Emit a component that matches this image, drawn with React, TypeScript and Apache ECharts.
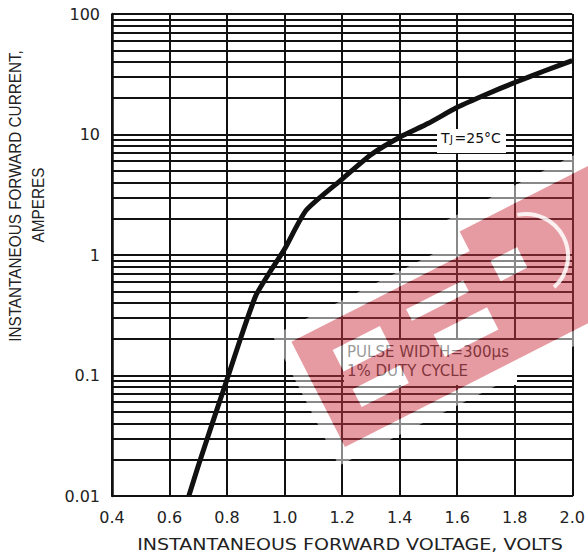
import React, { useEffect, useRef } from "react";
import * as echarts from "echarts";

// ---- data ----
const voltage = [0.667, 0.7, 0.75, 0.8, 0.85, 0.9, 0.95, 1.0, 1.075, 1.2, 1.3, 1.4, 1.5, 1.6, 1.7, 1.8, 1.9, 2.0];
const current = [0.01, 0.0178, 0.041, 0.093, 0.214, 0.46, 0.73, 1.12, 2.35, 4.27, 6.8, 9.5, 12.4, 16.8, 21.5, 27, 33.5, 41];

const xTickLabels = ["0.4", "0.6", "0.8", "1.0", "1.2", "1.4", "1.6", "1.8", "2.0"];
const yTickLabels = ["0.01", "0.1", "1", "10", "100"];
const decades = [0.01, 0.1, 1, 10];
const minorMultipliers = [2, 3, 4, 5, 6, 7, 8, 9];

const xTitle = "INSTANTANEOUS FORWARD VOLTAGE, VOLTS";
const yTitle1 = "INSTANTANEOUS FORWARD CURRENT,";
const yTitle2 = "AMPERES";
const noteLine1 = "PULSE WIDTH=300\u00b5s";
const noteLine2 = "1% DUTY CYCLE";

// ---- watermark shape (local coordinates) ----
const wmHoles = [
  [33, 86, 28, 48],
  [33, 86, 68, 92],
  [117, 181, 82, 95],
  [130, 190, 35, 60],
  [214, 244, 77, 100],
];
const wmOuter = "M0 0 L420 0 L420 -140 L200 -140 L200 -118 L0 -118 Z";
const wmPath =
  wmOuter +
  " " +
  wmHoles
    .map(([s1, s2, t1, t2]) => `M${s1} ${-t1} L${s1} ${-t2} L${s2} ${-t2} L${s2} ${-t1} Z`)
    .join(" ");
const haloPath =
  "M-14 14 L440 14 L440 -156 L186 -156 L186 -132 L-14 -132 Z " +
  "M0 0 L0 -118 L200 -118 L200 -140 L420 -140 L420 0 Z " +
  wmHoles
    .map(([s1, s2, t1, t2]) => `M${s1} ${-t1} L${s2} ${-t1} L${s2} ${-t2} L${s1} ${-t2} Z`)
    .join(" ");
echarts.graphic.registerShape("wmLogo", echarts.graphic.extendPath(wmPath, {}));
echarts.graphic.registerShape("wmHalo", echarts.graphic.extendPath(haloPath, {}));

const FONT = "DejaVu Sans";

export default function App() {
  const ref = useRef<HTMLDivElement>(null);
  useEffect(() => {
    document.body.style.margin = "0";
    const chart = echarts.init(ref.current!, null, { renderer: "svg" });
    const minorLines: number[] = [];
    decades.forEach((d) => minorMultipliers.forEach((m) => minorLines.push(+(d * m).toPrecision(3))));
    const grid = { color: "#111", width: 2 };
    const option: any = {
      animation: false,
      grid: { left: 112, right: 13, top: 14, bottom: 61 },
      xAxis: {
        type: "value",
        min: 0.4,
        max: 2.0,
        interval: 0.2,
        axisLine: { show: true, lineStyle: grid },
        axisTick: { show: false },
        splitLine: { show: true, lineStyle: grid },
        axisLabel: {
          margin: 13,
          fontFamily: FONT,
          fontSize: 16,
          color: "#222",
          formatter: (v: number) => xTickLabels[Math.round((v - 0.4) / 0.2)] ?? "",
        },
      },
      yAxis: {
        type: "log",
        logBase: 10,
        min: 0.01,
        max: 100,
        axisLine: { show: true, onZero: false, lineStyle: { color: "#111", width: 2.5 } },
        axisTick: { show: false },
        splitLine: { show: true, lineStyle: grid },
        axisLabel: {
          margin: 12,
          fontFamily: FONT,
          fontSize: 16,
          color: "#222",
          formatter: (v: number) => yTickLabels[Math.round(Math.log10(v)) + 2] ?? "",
        },
      },
      series: [
        {
          type: "line",
          data: voltage.map((v, i) => [v, current[i]]),
          symbol: "none",
          smooth: 0.2,
          lineStyle: { color: "#111", width: 5, join: "round" },
          z: 5,
          markLine: {
            silent: true,
            symbol: ["none", "none"],
            label: { show: false },
            lineStyle: { color: "#111", width: 2, type: "solid" },
            data: minorLines.map((v) => ({ yAxis: v })),
          },
        },
      ],
      graphic: [
        { type: "rect", z: 10, shape: { x: 344, y: 340, width: 173, height: 45 }, style: { fill: "#fff" } },
        {
          type: "text", z: 11, x: 347, y: 352,
          style: { text: noteLine1, font: `15px "${FONT}"`, fill: "#333", align: "left", verticalAlign: "middle" },
        },
        {
          type: "text", z: 11, x: 347, y: 371,
          style: { text: noteLine2, font: `15px "${FONT}"`, fill: "#333", align: "left", verticalAlign: "middle" },
        },
        { type: "rect", z: 10, shape: { x: 437, y: 129, width: 69, height: 24 }, style: { fill: "#fff" } },
        {
          type: "text", z: 11, x: 441, y: 145,
          style: { text: "T", font: `14px "${FONT}"`, fill: "#111", align: "left", verticalAlign: "bottom" },
        },
        {
          type: "text", z: 11, x: 450, y: 144.5,
          style: { text: "J", font: `10px "${FONT}"`, fill: "#111", align: "left", verticalAlign: "bottom" },
        },
        {
          type: "text", z: 11, x: 454.5, y: 145,
          style: { text: "=25\u00b0C", font: `14px "${FONT}"`, fill: "#111", align: "left", verticalAlign: "bottom" },
        },
        {
          type: "text", z: 11, x: 350, y: 545, scaleX: 1.19,
          style: { text: xTitle, font: `16px "${FONT}"`, fill: "#222", align: "center", verticalAlign: "middle" },
        },
        {
          type: "text", z: 11, x: 15, y: 196, rotation: Math.PI / 2, scaleX: 1.02, scaleY: 1.15,
          style: { text: yTitle1, font: `15px "Liberation Sans"`, fill: "#222", align: "center", verticalAlign: "middle" },
        },
        {
          type: "text", z: 11, x: 38, y: 205, rotation: Math.PI / 2, scaleX: 1.02, scaleY: 1.15,
          style: { text: yTitle2, font: `15px "Liberation Sans"`, fill: "#222", align: "center", verticalAlign: "middle" },
        },
        {
          type: "group",
          x: 345,
          y: 447,
          rotation: (27 * Math.PI) / 180,
          z: 50,
          silent: true,
          children: [
            {
              type: "wmHalo",
              z: 49,
              style: { fill: "#fff", opacity: 0.5 },
            },
            {
              type: "wmLogo",
              z: 50,
              style: { fill: "rgb(205,55,70)", opacity: 0.5 },
            },
            {
              type: "arc",
              z: 51,
              shape: { cx: 248, cy: -88, r: 42, startAngle: (-75 * Math.PI) / 180, endAngle: (75 * Math.PI) / 180, clockwise: true },
              style: { stroke: "#fff", lineWidth: 4, fill: null, opacity: 0.85 },
            },
          ],
        },
      ],
    };
    chart.setOption(option);
    return () => chart.dispose();
  }, []);
  return <div ref={ref} style={{ width: 588, height: 557 }} />;
}
